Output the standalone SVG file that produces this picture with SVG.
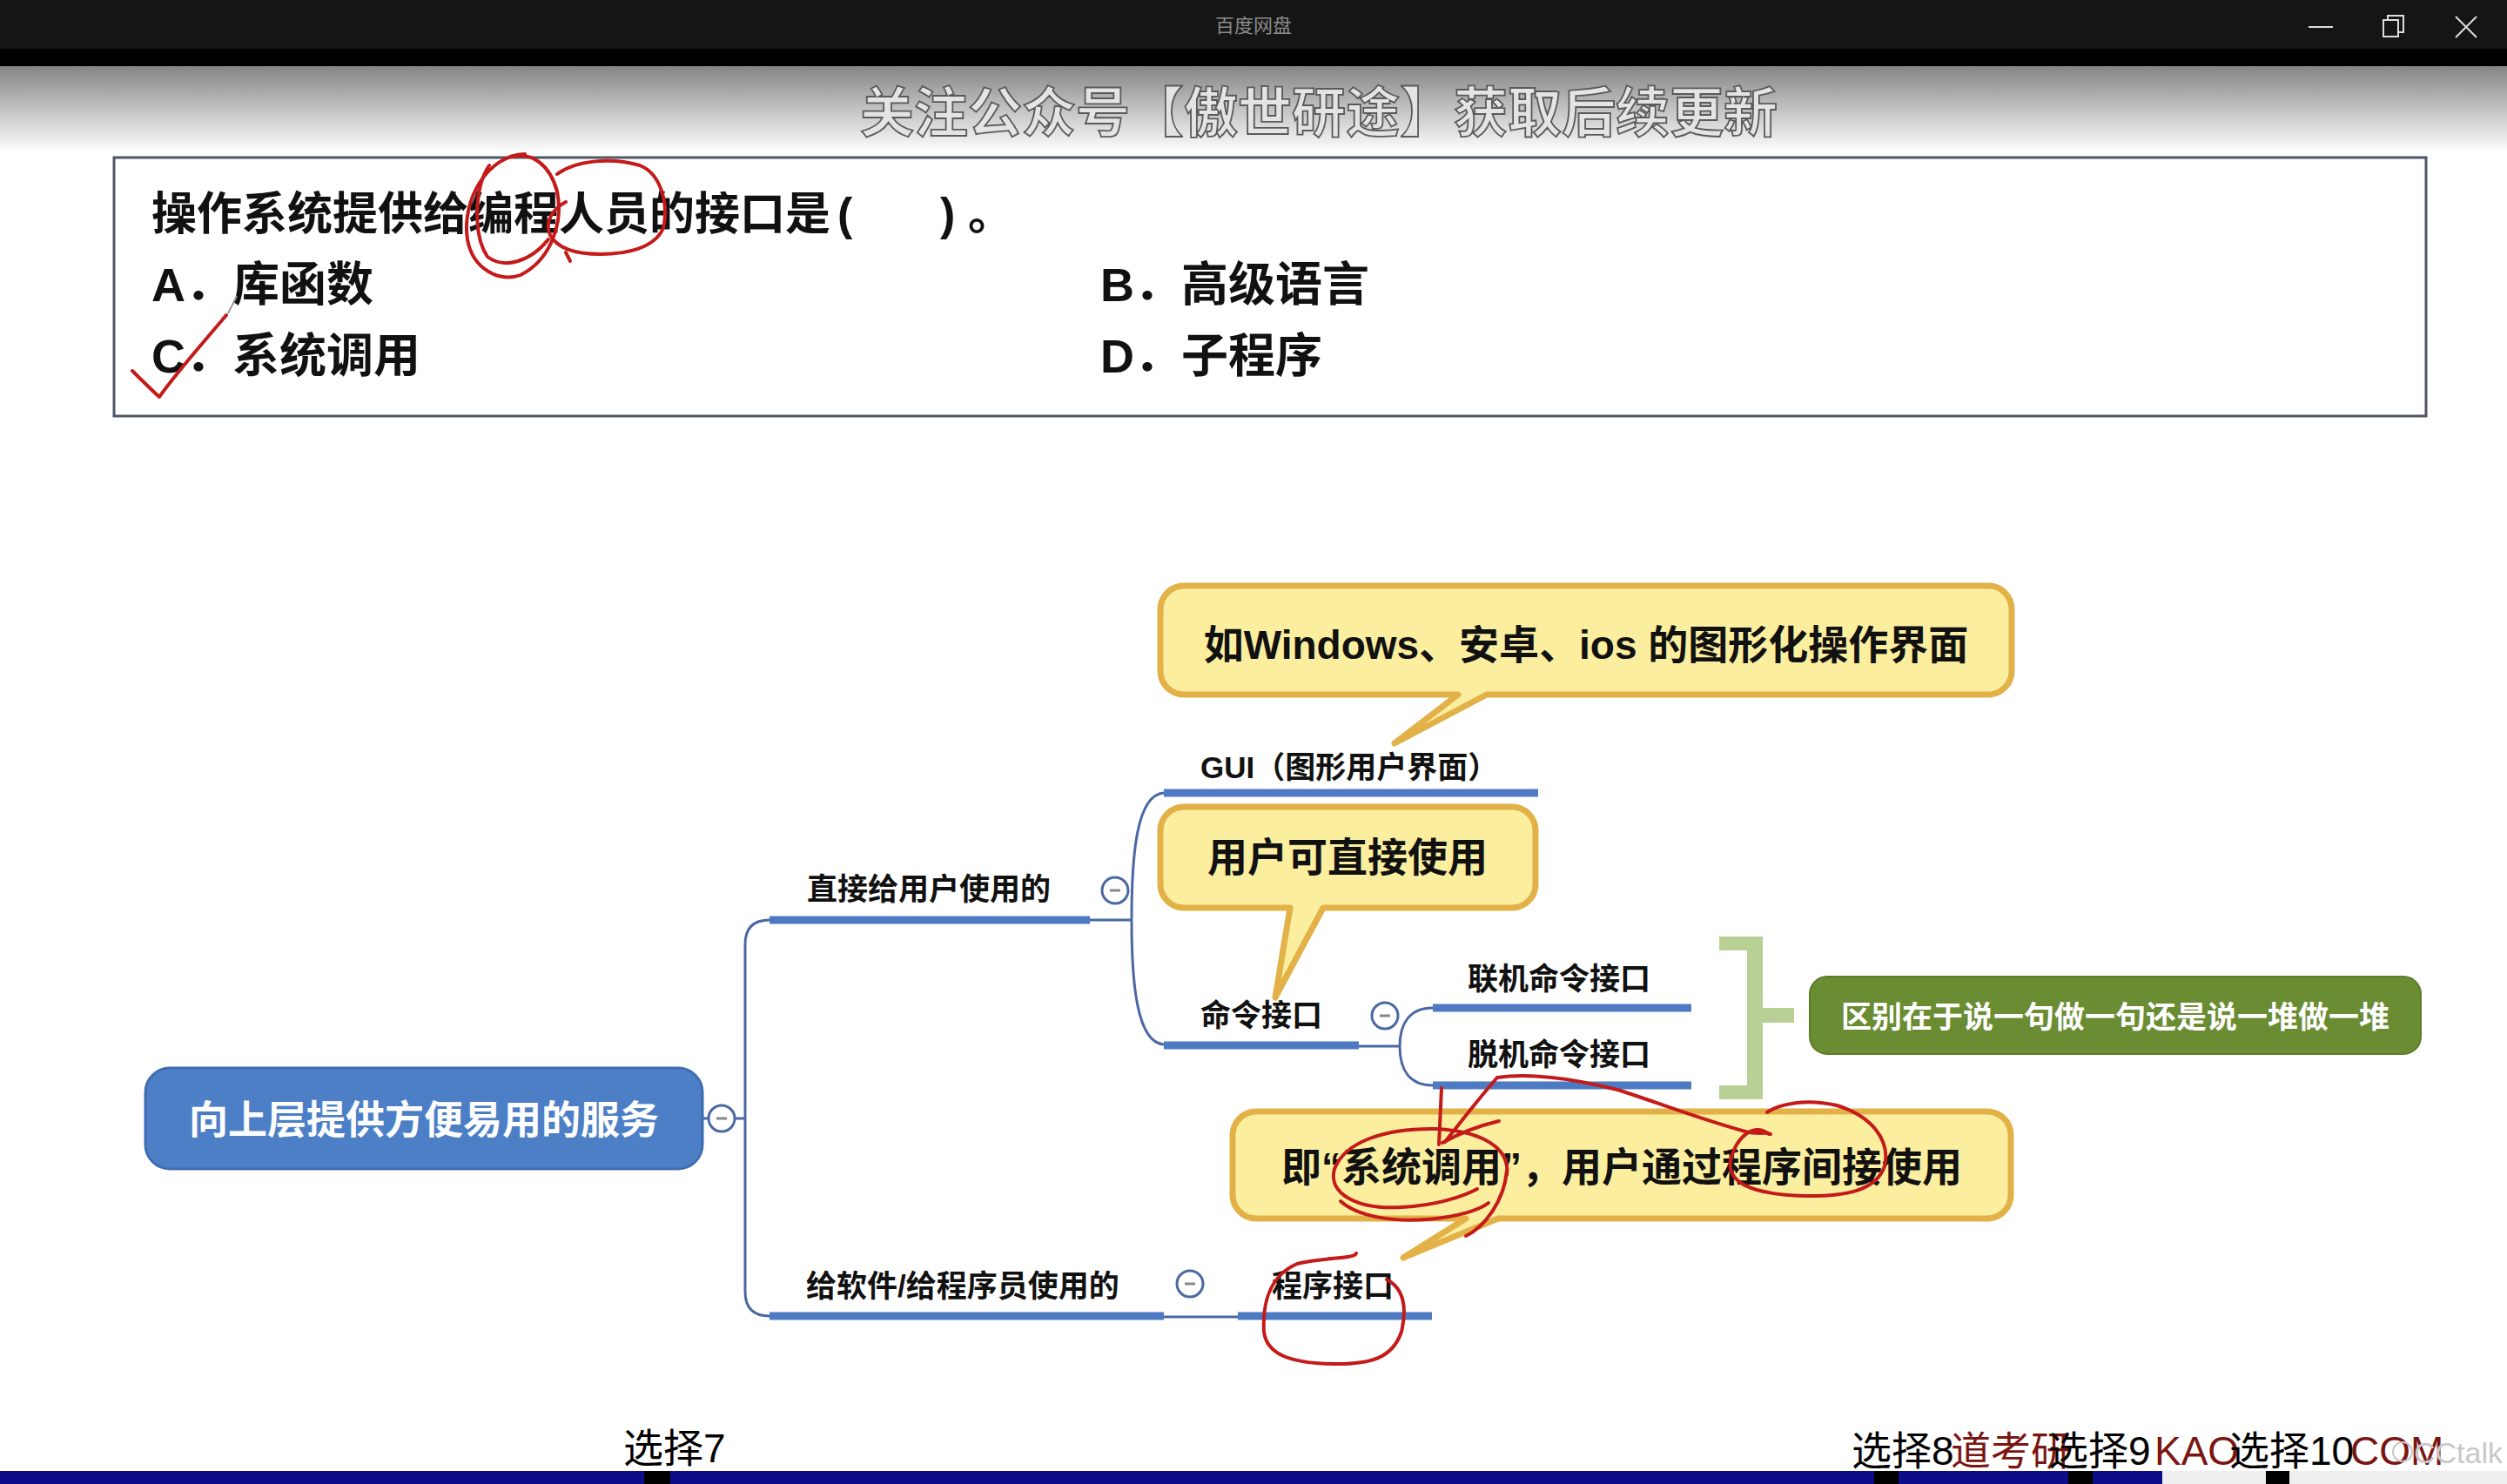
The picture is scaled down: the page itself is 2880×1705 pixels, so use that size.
<svg xmlns="http://www.w3.org/2000/svg" width="2880" height="1705" viewBox="0 0 2880 1705">
<defs>
<linearGradient id="hdr" x1="0" y1="0" x2="0" y2="1">
<stop offset="0" stop-color="#858585"/>
<stop offset="0.55" stop-color="#c9c9c9"/>
<stop offset="1" stop-color="#ffffff"/>
</linearGradient>
<style>
.cjk{font-family:"Liberation Sans","Noto Sans CJK SC",sans-serif;}
.q{font-size:52px;fill:#111;font-weight:bold;}
.opt{font-size:54px;fill:#111;font-weight:bold;}
.lbl{font-size:35px;fill:#111;font-weight:bold;}
.call{font-size:46px;fill:#111;font-weight:bold;}
.ul{stroke:#4d7ac2;stroke-width:9;fill:none;}
.thin{stroke:#4a68a3;stroke-width:3;fill:none;}
.tog{fill:#fff;stroke:#4a68a3;stroke-width:3;}
.minus{stroke:#888;stroke-width:3;}
.bubble{fill:#fbee9f;stroke:#e2b147;stroke-width:7;stroke-linejoin:round;}
.red{stroke:#c41a1a;stroke-width:4;fill:none;stroke-linecap:round;stroke-linejoin:round;}
.brk{fill:#b8d096;}
.foot{font-size:46px;}
</style>
</defs>
<rect x="0" y="0" width="2880" height="1705" fill="#ffffff"/>
<g id="header">
<rect x="0" y="0" width="2880" height="56" fill="#151515"/>
<rect x="0" y="56" width="2880" height="20" fill="#000"/>
<rect x="0" y="76" width="2880" height="100" fill="url(#hdr)"/>
<text x="1440" y="37" text-anchor="middle" class="cjk" font-size="22" fill="#8a8a8a">百度网盘</text>
<line x1="2652" y1="31" x2="2680" y2="31" stroke="#ddd" stroke-width="2"/>
<rect x="2738" y="23" width="17" height="19" fill="none" stroke="#ddd" stroke-width="2"/>
<path d="M2743,23 V18 H2761 V37 H2755" fill="none" stroke="#ddd" stroke-width="2"/>
<path d="M2821,19 L2845,43 M2845,19 L2821,43" stroke="#ddd" stroke-width="2"/>
<text x="1515" y="152" text-anchor="middle" class="cjk" font-size="62" font-weight="bold" fill="#e4e4e4" stroke="#5a5a5a" stroke-width="1.8">关注公众号【傲世研途】获取后续更新</text>
</g>
<g id="question">
<rect x="131" y="181" width="2656" height="297" fill="#fff" stroke="#4e5666" stroke-width="3"/>
<text x="174" y="264" class="cjk q">操作系统提供给编程人员的接口是<tspan x="962">(</tspan><tspan x="1080">)</tspan><tspan x="1112">。</tspan></text>
<text x="174" y="346" class="cjk opt">A．库函数</text>
<text x="1264" y="346" class="cjk opt">B．高级语言</text>
<text x="174" y="428" class="cjk opt">C．系统调用</text>
<text x="1264" y="428" class="cjk opt">D．子程序</text>
</g>
<g id="connectors">
<path class="thin" d="M806,1285 H814"/>
<path class="thin" d="M844,1285 H856"/>
<path class="thin" d="M884,1057 Q856,1057 856,1085 V1484 Q856,1512 884,1512"/>
<path class="thin" d="M1252,1057 H1300"/>
<path class="thin" d="M1337,911 C1306,913 1300,980 1300,1057 C1300,1130 1306,1198 1337,1200"/>
<path class="thin" d="M1561,1202 H1608"/>
<path class="thin" d="M1646,1158 C1620,1158 1608,1175 1608,1202 C1608,1230 1620,1247 1646,1247"/>
<path class="thin" d="M1337,1513 H1422"/>
</g>
<g id="root">
<rect x="167" y="1227" width="640" height="116" rx="28" fill="#4c7fc6" stroke="#3f6db3" stroke-width="3"/>
<text x="487" y="1303" text-anchor="middle" class="cjk" font-size="45" font-weight="bold" fill="#fff">向上层提供方便易用的服务</text>
<circle class="tog" cx="829" cy="1285" r="15"/>
<line class="minus" x1="823" y1="1285" x2="835" y2="1285"/>
</g>
<g id="n-direct">
<text x="927" y="1034" class="cjk lbl">直接给用户使用的</text>
<line class="ul" x1="884" y1="1057" x2="1252" y2="1057"/>
<circle class="tog" cx="1281" cy="1023" r="15"/>
<line class="minus" x1="1275" y1="1023" x2="1287" y2="1023"/>
</g>
<g id="n-gui">
<text x="1379" y="894" class="cjk lbl">GUI（图形用户界面）</text>
<line class="ul" x1="1337" y1="911" x2="1767" y2="911"/>
</g>
<g id="n-cmd">
<text x="1379" y="1179" class="cjk lbl">命令接口</text>
<line class="ul" x1="1337" y1="1201" x2="1561" y2="1201"/>
<circle class="tog" cx="1591" cy="1167" r="15"/>
<line class="minus" x1="1585" y1="1167" x2="1597" y2="1167"/>
</g>
<g id="n-online">
<text x="1686" y="1137" class="cjk lbl">联机命令接口</text>
<line class="ul" x1="1646" y1="1158" x2="1943" y2="1158"/>
</g>
<g id="n-offline">
<text x="1686" y="1224" class="cjk lbl">脱机命令接口</text>
<line class="ul" x1="1646" y1="1247" x2="1943" y2="1247"/>
</g>
<g id="n-software">
<text x="926" y="1490" class="cjk lbl">给软件/给程序员使用的</text>
<line class="ul" x1="884" y1="1512" x2="1337" y2="1512"/>
<circle class="tog" cx="1367" cy="1475" r="15"/>
<line class="minus" x1="1361" y1="1475" x2="1373" y2="1475"/>
</g>
<g id="n-program">
<text x="1461" y="1490" class="cjk lbl">程序接口</text>
<line class="ul" x1="1422" y1="1512" x2="1645" y2="1512"/>
</g>
<g id="bracket">
<rect class="brk" x="1975" y="1076" width="50" height="16"/>
<rect class="brk" x="2007" y="1076" width="18" height="187"/>
<rect class="brk" x="1975" y="1247" width="50" height="16"/>
<rect class="brk" x="2024" y="1158" width="37" height="17"/>
</g>
<g id="n-summary">
<rect x="2079" y="1122" width="702" height="89" rx="20" fill="#6a8c33" stroke="#5d7d2b" stroke-width="2"/>
<text x="2430" y="1181" text-anchor="middle" class="cjk" font-size="35" font-weight="bold" fill="#fff">区别在于说一句做一句还是说一堆做一堆</text>
</g>
<g id="callout-gui">
<path class="bubble" d="M1360,673 H2284 A27,27 0 0 1 2311,700 V771 A27,27 0 0 1 2284,798 H1708 L1602,854 L1675,798 H1360 A27,27 0 0 1 1333,771 V700 A27,27 0 0 1 1360,673 Z"/>
<text x="1822" y="757" text-anchor="middle" class="cjk call">如Windows、安卓、ios 的图形化操作界面</text>
</g>
<g id="callout-cmd">
<path class="bubble" d="M1360,927 H1737 A27,27 0 0 1 1764,954 V1016 A27,27 0 0 1 1737,1043 H1520 L1465,1146 L1482,1043 H1360 A27,27 0 0 1 1333,1016 V954 A27,27 0 0 1 1360,927 Z"/>
<text x="1548" y="1001" text-anchor="middle" class="cjk call">用户可直接使用</text>
</g>
<g id="callout-prog">
<path class="bubble" d="M1443,1277 H2283 A27,27 0 0 1 2310,1304 V1373 A27,27 0 0 1 2283,1400 H1721 L1612,1445 L1684,1400 H1443 A27,27 0 0 1 1416,1373 V1304 A27,27 0 0 1 1443,1277 Z"/>
<text x="1863" y="1357" text-anchor="middle" class="cjk call">即“系统调用”，用户通过程序间接使用</text>
</g>
<g id="annotations">
<path class="red" d="M603,177 C560,178 530,230 537,275 C543,310 575,325 598,316 C630,300 648,260 640,220 C632,190 612,175 590,180"/>
<path class="red" d="M562,190 C545,215 543,270 560,295 C580,310 610,300 630,275"/>
<path class="red" d="M640,200 C660,185 700,180 735,190 C760,200 768,235 762,262 C752,285 720,292 690,292 C660,292 640,285 632,270 C625,255 635,240 650,232"/>
<path class="red" d="M650,290 L655,300"/>
<path class="red" d="M152,426 C162,436 173,447 183,456 C205,425 235,392 260,362"/>
<path d="M262,360 L272,340" stroke="#999" stroke-width="2" fill="none"/>
<path class="red" d="M1656,1250 C1655,1275 1654,1295 1653,1315"/>
<path class="red" d="M1720,1238 C1705,1255 1685,1280 1660,1312"/>
<path class="red" d="M1657,1313 C1680,1300 1705,1292 1722,1288"/>
<path class="red" d="M1720,1238 C1760,1232 1810,1240 1858,1252 C1900,1265 1950,1285 2005,1300 C2020,1304 2032,1300 2034,1303"/>
<path class="red" d="M2032,1303 C2015,1290 1995,1305 1988,1333 C1984,1358 2010,1372 2072,1374 C2120,1375 2155,1368 2165,1340 C2172,1310 2150,1282 2110,1270 C2075,1262 2045,1268 2030,1278"/>
<path class="red" d="M1731,1350 C1735,1320 1705,1300 1650,1297 C1590,1296 1545,1312 1533,1343 C1525,1372 1560,1390 1610,1387 C1650,1385 1680,1375 1697,1366"/>
<path class="red" d="M1540,1380 C1560,1398 1600,1404 1640,1401 C1675,1398 1700,1390 1710,1382"/>
<path class="red" d="M1731,1345 C1728,1380 1705,1410 1684,1420"/>
<path class="red" d="M1558,1440 C1556,1447 1520,1444 1490,1452 C1460,1465 1450,1495 1452,1530 C1455,1555 1480,1566 1530,1567 C1575,1568 1600,1560 1610,1530 C1617,1500 1612,1480 1593,1470"/>
</g>
<g id="footer">
<rect x="0" y="1690" width="2484" height="15" fill="#0d0d8a"/>
<rect x="2484" y="1690" width="396" height="15" fill="#eeeeee"/>
<rect x="740" y="1690" width="30" height="15" fill="#000"/>
<rect x="2153" y="1690" width="28" height="15" fill="#000"/>
<rect x="2376" y="1690" width="28" height="15" fill="#000"/>
<rect x="2603" y="1690" width="27" height="15" fill="#000"/>
<text x="716" y="1680" class="cjk foot" fill="#000">选择7</text>
<text x="2241" y="1683" class="cjk foot" fill="#7a1612">道考研</text>
<text x="2475" y="1683" class="cjk foot" fill="#7a1612">KAO</text>
<text x="2700" y="1683" class="cjk foot" fill="#7a1612">COM</text>
<text x="2127" y="1683" class="cjk foot" fill="#000">选择8</text>
<text x="2353" y="1683" class="cjk foot" fill="#000">选择9</text>
<text x="2561" y="1683" class="cjk foot" fill="#000">选择10</text>
<circle cx="2760" cy="1668" r="11" fill="none" stroke="#c8c8c8" stroke-width="2"/>
<text x="2773" y="1681" font-family="Liberation Sans, sans-serif" font-size="34" fill="#c8c8c8">CCtalk</text>
</g>
</svg>
